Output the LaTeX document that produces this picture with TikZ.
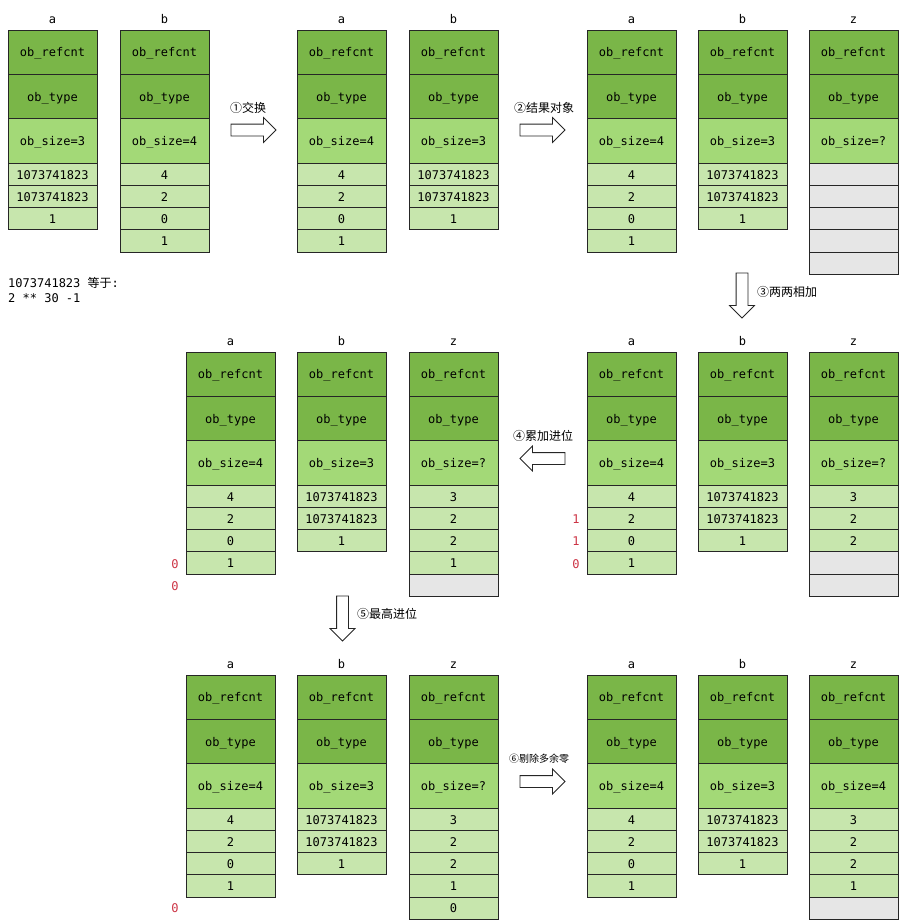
\documentclass[tikz,border=0pt]{standalone}
\usepackage{fontspec}
\setmonofont{DejaVu Sans Mono}
\newfontfamily\cjk{Noto Sans CJK SC}
\usepackage{tikz}
\usetikzlibrary{positioning, shapes.arrows}
\definecolor{refgreen}{HTML}{7AB648}
\definecolor{sizegreen}{HTML}{A3D977}
\definecolor{dig}{HTML}{C7E6AD}
\definecolor{nil}{HTML}{E6E6E6}
\definecolor{carryred}{HTML}{CC3344}

\tikzset{
  box/.style={draw=black!85, line width=0.8pt, inner sep=0pt, outer sep=0pt,
    minimum width=89pt, text height=9.5pt, text depth=0pt,
    font=\ttfamily\fontsize{12}{14}\selectfont},
  headcell/.style={box, fill=refgreen, minimum height=44.4pt},
  sizecell/.style={box, fill=sizegreen, minimum height=44.4pt},
  digitcell/.style={box, minimum height=22.2pt},
  collabel/.style={inner sep=0pt, font=\ttfamily\fontsize{12}{14}\selectfont},
  note/.style={inner sep=0pt, font=\ttfamily\fontsize{12}{14}\selectfont},
  carry/.style={inner sep=0pt, text=carryred, font=\ttfamily\fontsize{12}{14}\selectfont},
  steparrow/.style={single arrow, draw=black!85, fill=white, line width=0.8pt,
    inner xsep=0pt, inner ysep=5.5pt, minimum height=45pt,
    single arrow head extend=6.5pt},
  steptext/.style={inner sep=0pt, font=\cjk\fontsize{12}{14}\selectfont}
}

% one long object: name, x, top, label, size, cells (colour/digit)
\newcommand{\pylong}[6]{%
  \node[headcell, anchor=north west] (#1-ref) at (#2,#3) {ob\_refcnt};
  \node[headcell, below=0pt of #1-ref] (#1-type) {ob\_type};
  \node[sizecell, below=0pt of #1-type] (#1-size) {ob\_size=#5};
  \node[collabel, above=6pt of #1-ref] (#1-name) {#4};
  \foreach \c/\d [count=\i] in {#6}
    \node[digitcell, fill=\c, anchor=north west] (#1-d\i) at (#2,{#3+133.2+22.2*(\i-1)}) {\d};
}

\begin{document}
\begin{tikzpicture}[x=1pt, y=-1pt]
  \useasboundingbox (0,0) rectangle (905,924);

  % start
  \pylong{s1a}{8}{30}{a}{3}{dig/1073741823,dig/1073741823,dig/1}
  \pylong{s1b}{120}{30}{b}{4}{dig/4,dig/2,dig/0,dig/1}
  \node[note, anchor=base west] (note1) at (8,287.5) {1073741823 {\cjk 等于}:};
  \node[note, anchor=base west] (note2) at (8,302.5) {2 ** 30 -1};

  % swap
  \node[steparrow] (go1) at (250.5,130) {};
  \node[steptext] (go1-txt) at (248,108) {①交换};
  \pylong{s2a}{297}{30}{a}{4}{dig/4,dig/2,dig/0,dig/1}
  \pylong{s2b}{409}{30}{b}{3}{dig/1073741823,dig/1073741823,dig/1}

  % result object
  \node[steparrow] (go2) at (539.5,130) {};
  \node[steptext] (go2-txt) at (544,108) {②结果对象};
  \pylong{s3a}{587}{30}{a}{4}{dig/4,dig/2,dig/0,dig/1}
  \pylong{s3b}{698}{30}{b}{3}{dig/1073741823,dig/1073741823,dig/1}
  \pylong{s3z}{809}{30}{z}{?}{nil/{},nil/{},nil/{},nil/{},nil/{}}

  % add digit by digit
  \node[steparrow, rotate=-90] (go3) at (742,292.5) {};
  \node[steptext] (go3-txt) at (787,292) {③两两相加};
  \pylong{s4a}{587}{352}{a}{4}{dig/4,dig/2,dig/0,dig/1}
  \pylong{s4b}{698}{352}{b}{3}{dig/1073741823,dig/1073741823,dig/1}
  \pylong{s4z}{809}{352}{z}{?}{dig/3,dig/2,dig/2,nil/{},nil/{}}
  \node[carry] (cy1) at (576,519.5) {1};
  \node[carry] (cy2) at (576,541.5) {1};
  \node[carry] (cy3) at (576,564) {0};

  % carry
  \node[steparrow, rotate=180] (go4) at (545.5,458.5) {};
  \node[steptext] (go4-txt) at (543,436) {④累加进位};
  \pylong{s5a}{186}{352}{a}{4}{dig/4,dig/2,dig/0,dig/1}
  \pylong{s5b}{297}{352}{b}{3}{dig/1073741823,dig/1073741823,dig/1}
  \pylong{s5z}{409}{352}{z}{?}{dig/3,dig/2,dig/2,dig/1,nil/{}}
  \node[carry] (cy4) at (175,564) {0};
  \node[carry] (cy5) at (175,586) {0};

  % top carry
  \node[steparrow, rotate=-90] (go5) at (342.5,615.5) {};
  \node[steptext] (go5-txt) at (387,614) {⑤最高进位};
  \pylong{s6a}{186}{675}{a}{4}{dig/4,dig/2,dig/0,dig/1}
  \pylong{s6b}{297}{675}{b}{3}{dig/1073741823,dig/1073741823,dig/1}
  \pylong{s6z}{409}{675}{z}{?}{dig/3,dig/2,dig/2,dig/1,dig/0}
  \node[carry] (cy6) at (175,908) {0};

  % trim zeros
  \node[steparrow] (go6) at (539.5,781.5) {};
  \node[steptext, font=\cjk\fontsize{10}{12}\selectfont] (go6-txt) at (539,759) {⑥剔除多余零};
  \pylong{s7a}{587}{675}{a}{4}{dig/4,dig/2,dig/0,dig/1}
  \pylong{s7b}{698}{675}{b}{3}{dig/1073741823,dig/1073741823,dig/1}
  \pylong{s7z}{809}{675}{z}{4}{dig/3,dig/2,dig/2,dig/1,nil/{}}
\end{tikzpicture}
\end{document}
